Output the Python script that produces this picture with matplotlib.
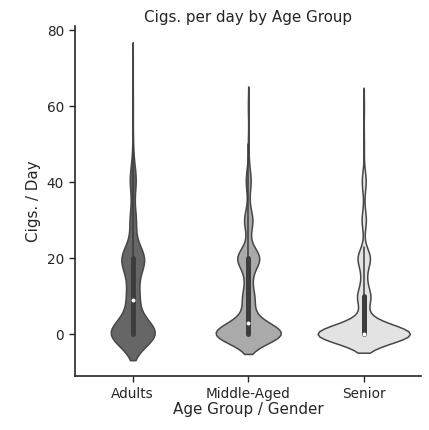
import numpy as np
import pandas as pd
import matplotlib
matplotlib.use("Agg")
import matplotlib.pyplot as plt
import seaborn as sns

# grupos de edad y colores de cada violín
grupos = ["Adults", "Middle-Aged", "Senior"]
colores = ["#666666", "#aaaaaa", "#e3e3e3"]

# cigarrillos/día: valores y cuántas personas (estimado a ojo del gráfico)
cigs_adults = [0, 1, 3, 5, 9, 10, 15, 20, 25, 30, 35, 40, 43, 45, 50, 60, 70]
n_adults = [350, 20, 30, 30, 30, 60, 50, 185, 12, 50, 6, 40, 15, 3, 5, 3, 1]

cigs_middle = [0, 1, 2, 3, 4, 5, 6, 7, 8, 9, 10, 12, 15, 20, 25, 30, 35, 40, 43, 45, 50, 60]
n_middle = [1320, 75, 45, 90, 30, 90, 15, 9, 30, 45, 165, 9, 120, 480, 45, 180, 30, 90, 30, 6, 15, 15]

cigs_senior = [0, 1, 2, 3, 5, 6, 9, 10, 15, 20, 23, 30, 35, 40, 43, 50, 60]
n_senior = [1145, 27, 9, 36, 45, 5, 18, 144, 54, 150, 9, 54, 9, 45, 9, 5, 5]

valores = [cigs_adults, cigs_middle, cigs_senior]
cuentas = [n_adults, n_middle, n_senior]

df = pd.concat([
    pd.DataFrame({"grupo": g, "cigs": np.repeat(v, c)})
    for g, v, c in zip(grupos, valores, cuentas)
], ignore_index=True)

sns.set_style("ticks")
plt.rcParams["font.family"] = ["DejaVu Sans"]
texto = "#262626"
borde = "#474747"
caja = "#3d3d3d"

fig = plt.figure(figsize=(4.29, 4.30), dpi=100)
ax = fig.add_axes([0.1748, 0.1256, 0.8077, 0.8130])

# sin hue para que el ancho (area) sea comun a los tres violines
sns.violinplot(data=df, x="grupo", y="cigs", order=grupos, color=colores[0],
               inner=None, linecolor=borde, linewidth=1.1, ax=ax)
for coll, col in zip(ax.collections, colores):
    coll.set_facecolor(col)

# caja interior, bigotes y mediana
for i, g in enumerate(grupos):
    vals = df.loc[df["grupo"] == g, "cigs"].to_numpy()
    q1, med, q3 = np.percentile(vals, [25, 50, 75])
    lim = 1.5 * (q3 - q1)
    lo = vals[vals >= q1 - lim].min()
    hi = vals[vals <= q3 + lim].max()
    ax.plot([i, i], [lo, hi], color=caja, lw=1.1, zorder=3)
    ax.plot([i, i], [q1, q3], color=caja, lw=3.6, zorder=3)
    ax.scatter([i], [med], s=8, color="white", linewidths=0, zorder=4)

ax.set_xlim(-0.5, 2.5)
ax.set_ylim(-11, 81)
ax.set_yticks([0, 20, 40, 60, 80])
ax.set_title("Cigs. per day by Age Group", fontsize=10.9, color=texto, pad=3)
ax.set_xlabel("Age Group / Gender", fontsize=10.9, color=texto, labelpad=1)
ax.set_ylabel("Cigs. / Day", fontsize=10.9, color=texto)
ax.tick_params(labelsize=9.8, colors=texto, length=4.5, width=1)
for s in ["left", "bottom"]:
    ax.spines[s].set_color(texto)
    ax.spines[s].set_linewidth(1.2)
sns.despine(ax=ax)

fig.savefig("out.png", dpi=100)
